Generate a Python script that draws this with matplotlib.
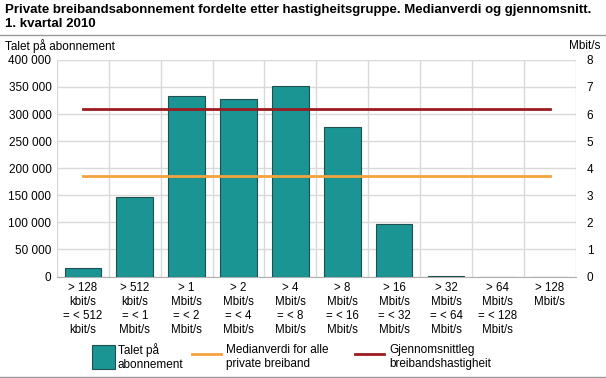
import matplotlib.pyplot as plt
import matplotlib.lines as mlines
import matplotlib.patches as mpatches
import numpy as np

plt.rcParams['font.family'] = ['Liberation Sans', 'DejaVu Sans']

categories = ['> 128\nkbit/s\n= < 512\nkbit/s', '> 512\nkbit/s\n= < 1\nMbit/s', '> 1\nMbit/s\n= < 2\nMbit/s',
              '> 2\nMbit/s\n= < 4\nMbit/s', '> 4\nMbit/s\n= < 8\nMbit/s', '> 8\nMbit/s\n= < 16\nMbit/s',
              '> 16\nMbit/s\n= < 32\nMbit/s', '> 32\nMbit/s\n= < 64\nMbit/s', '> 64\nMbit/s\n= < 128\nMbit/s',
              '> 128\nMbit/s']
abonnement = [16000, 146500, 333500, 327000, 352500, 276000, 96500, 1500, 0, 0]
median = 3.72
snitt = 6.2

left_ticks = [0, 50000, 100000, 150000, 200000, 250000, 300000, 350000, 400000]
left_labels = ['0', '50 000', '100 000', '150 000', '200 000', '250 000', '300 000', '350 000', '400 000']

teal = '#1a9593'
orange = '#f5a33c'
red = '#9b1b1f'
grid = '#d9d9d9'

fig = plt.figure(figsize=(6.06, 3.78), dpi=100)
ax = fig.add_axes([0.094, 0.2685, 0.856, 0.573])
x = np.arange(len(categories))
ax.bar(x, abonnement, width=0.707, color=teal, edgecolor='#1f4f4e', linewidth=0.8, zorder=3)
ax.set_xlim(-0.5, len(categories) - 0.5)
ax.set_ylim(0, 400000)
ax.set_yticks(left_ticks)
ax.set_yticklabels(left_labels, fontsize=8.5)
ax.set_xticks(x)
ax.set_xticklabels(categories, fontsize=8.3, linespacing=1.22)
ax.set_xticks(np.arange(-0.5, len(categories)), minor=True)
ax.grid(axis='y', color=grid, linewidth=1, zorder=0)
ax.grid(axis='x', which='minor', color=grid, linewidth=1, zorder=0)
ax.tick_params(axis='both', which='both', length=0, pad=4)
for s in ['top', 'left', 'right']:
    ax.spines[s].set_visible(False)
ax.spines['bottom'].set_color('#b0b0b0')

ax2 = ax.twinx()
ax2.set_ylim(0, 8)
ax2.set_yticks(range(9))
ax2.tick_params(axis='y', length=0, labelsize=8.5, pad=8)
for s in ax2.spines.values():
    s.set_visible(False)
ax2.plot([x[0], x[-1]], [median, median], color=orange, linewidth=2, zorder=4)
ax2.plot([x[0], x[-1]], [snitt, snitt], color=red, linewidth=2, zorder=4)

fig.text(0.008, 0.99, 'Private breibandsabonnement fordelte etter hastigheitsgruppe. Medianverdi og gjennomsnitt.\n1. kvartal 2010',
         fontsize=9.5, fontweight='bold', va='top', ha='left', linespacing=1.2)
fig.add_artist(mlines.Line2D([0, 1], [0.908, 0.908], color='#999999', linewidth=1))
fig.add_artist(mlines.Line2D([0, 1], [0.003, 0.003], color='#999999', linewidth=1))
fig.text(0.008, 0.879, 'Talet på abonnement', fontsize=8.5, va='center', ha='left')
fig.text(0.99, 0.879, 'Mbit/s', fontsize=8.5, va='center', ha='right')

# legend drawn by hand in pixel positions -> figure fractions
W, H = 606, 378
fig.add_artist(mpatches.Rectangle((92 / W, 1 - 369 / H), 23 / W, 24 / H, facecolor=teal,
                                  edgecolor='#1f4f4e', linewidth=0.8, transform=fig.transFigure))
fig.add_artist(mlines.Line2D([192 / W, 221 / W], [1 - 354 / H] * 2, color=orange, linewidth=2))
fig.add_artist(mlines.Line2D([355 / W, 384 / W], [1 - 354 / H] * 2, color=red, linewidth=2))
for xp, txt in [(118, 'Talet på\nabonnement'), (226, 'Medianverdi for alle\nprivate breiband'),
                (389, 'Gjennomsnittleg\nbreibandshastigheit')]:
    fig.text(xp / W, 1 - 357 / H, txt, fontsize=8.5, va='center', ha='left', linespacing=1.25)

fig.savefig('out.png', dpi=100)
